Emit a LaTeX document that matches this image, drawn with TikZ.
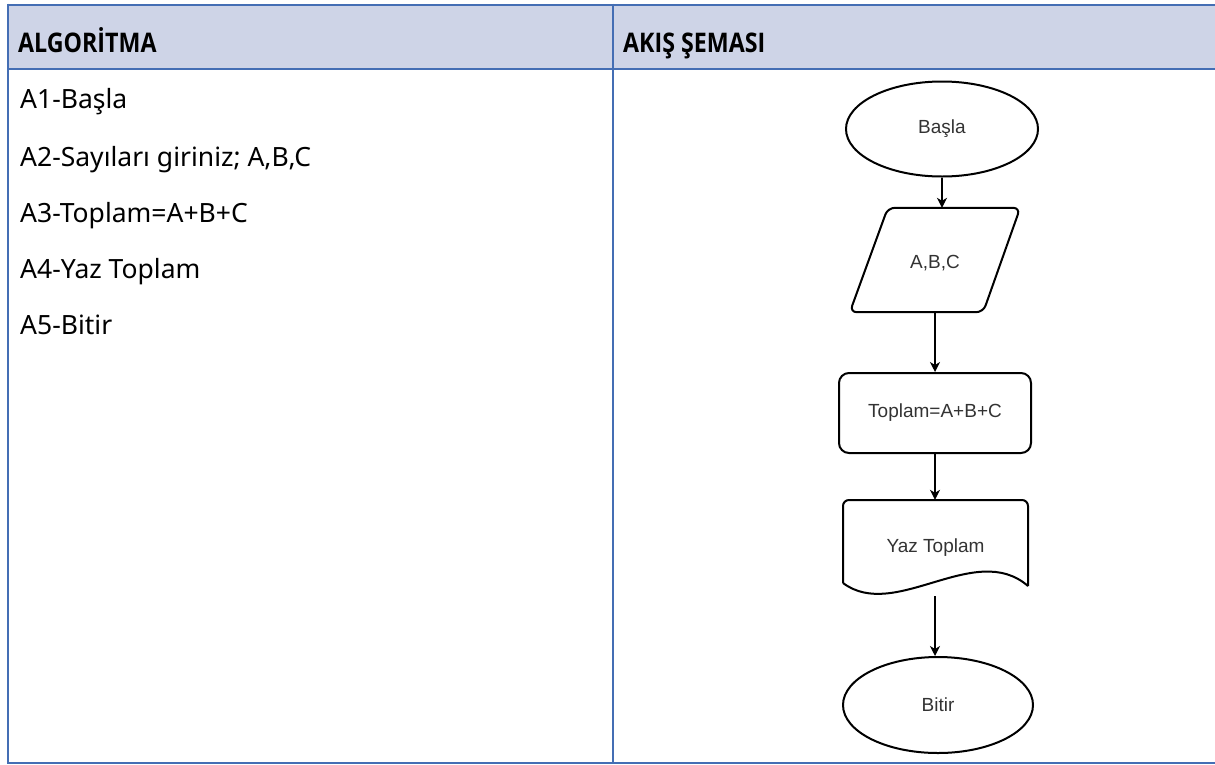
\documentclass[tikz,border=0pt]{standalone}
\usepackage{fontspec}
\usepackage{graphicx}
\setmainfont{Noto Sans}
\newfontfamily\headfont{Open Sans}
\newfontfamily\chartfont{Liberation Sans}
\usetikzlibrary{arrows.meta,shapes.geometric}
\definecolor{tblue}{RGB}{68,110,180}
\definecolor{thead}{RGB}{206,212,231}
\definecolor{ctext}{RGB}{51,51,51}
\newcommand{\headtext}[1]{\scalebox{0.86}[1]{\headfont\bfseries\fontsize{27}{30}\selectfont #1}}
\tikzset{
  headtxt/.style={anchor=base west,inner sep=0pt},
  bodytxt/.style={anchor=base west,inner sep=0pt,font=\fontsize{26.5}{30}\selectfont},
  shapeline/.style={draw=black,line width=2pt},
  chartbox/.style={inner sep=0pt,text=ctext,font=\chartfont\fontsize{19}{22}\selectfont},
  flowarrow/.style={draw=black,line width=1.2pt,-{Stealth[length=10pt,width=10pt,inset=3pt]}},
  rule/.style={draw=tblue,line width=2pt}
}
\begin{document}
\begin{tikzpicture}[x=1pt,y=-1pt]
\useasboundingbox (0,0) rectangle (1215,764);
% table
\fill[thead] (7.5,4.5) rectangle (1215,68.5);
\draw[rule] (7.5,4.5) -- (1215,4.5);
\draw[rule] (7.5,68.5) -- (1215,68.5);
\draw[rule] (7.5,762.5) -- (1215,762.5);
\draw[rule] (7.5,3.5) -- (7.5,763.5);
\draw[rule] (612.5,3.5) -- (612.5,763.5);
\node[headtxt] (h1) at (18,52) {\headtext{ALGORİTMA}};
\node[headtxt] (h2) at (623,52) {\headtext{AKIŞ ŞEMASI}};
\node[bodytxt] (a1) at (20,108) {A1-Başla};
\node[bodytxt] (a2) at (20,166) {A2-Sayıları giriniz; A,B,C};
\node[bodytxt] (a3) at (20,222) {A3-Toplam=A+B+C};
\node[bodytxt] (a4) at (20,278) {A4-Yaz Toplam};
\node[bodytxt] (a5) at (20,334) {A5-Bitir};
% flowchart
\node[chartbox,shapeline,ellipse,minimum width=192pt,minimum height=95pt] (basla) at (942,129) {Başla};
\node[chartbox,minimum width=170pt,minimum height=104pt] (abc) at (935,260) {};
\draw[shapeline,rounded corners=7pt] ([xshift=38pt]abc.north west) -- (abc.north east) -- ([xshift=-37pt]abc.south east) -- (abc.south west) -- cycle;
\node[chartbox] at (935,263) {A,B,C};
\node[chartbox,shapeline,rounded corners=10pt,minimum width=192pt,minimum height=80pt] (top) at (935,413) {Toplam=A+B+C};
\node[chartbox,minimum width=185pt,minimum height=86pt] (yaz) at (935,543) {};
\draw[shapeline,rounded corners=6pt] (843,583) -- (843,500) -- (1028,500) -- (1028,586);
\draw[shapeline] (1028,586) .. controls (975,540) and (895,622) .. (843,583);
\node[chartbox] at (935.5,548) {Yaz Toplam};
\coordinate (yazout) at (935,596);
\node[chartbox,shapeline,ellipse,minimum width=190pt,minimum height=96pt] (bitir) at (938,705) {Bitir};
\draw[flowarrow] (basla.south) -- (basla.south |- abc.north);
\draw[flowarrow] (abc.south) -- (top.north);
\draw[flowarrow] (top.south) -- (yaz.north);
\draw[flowarrow] (yazout) -- (yazout |- bitir.north);
\end{tikzpicture}
\end{document}
